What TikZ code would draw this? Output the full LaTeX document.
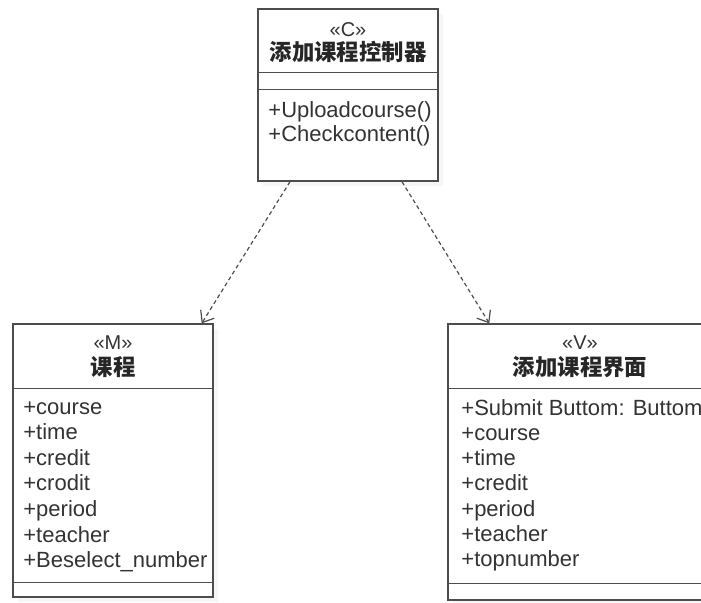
\documentclass[tikz,border=0pt]{standalone}
\usepackage{fontspec}
\setmainfont{Liberation Sans}
\newfontfamily\cjk{Noto Sans CJK SC}
\usetikzlibrary{arrows.meta}
\usetikzlibrary{positioning}
\usetikzlibrary{shadows}
\definecolor{LineGray}{HTML}{4D4D4D}
\definecolor{TextGray}{HTML}{333333}
\definecolor{ShadowGray}{HTML}{EEEEEE}

\begin{document}
\begin{tikzpicture}[x=0.5pt, y=-0.5pt,
  classbox/.style={draw=LineGray, line width=0.7pt, fill=white, rectangle, inner sep=0pt,
    drop shadow={fill=ShadowGray, shadow xshift=2.5pt, shadow yshift=-2.5pt}},
  stereo/.style={text=TextGray, inner sep=0pt, font=\fontsize{10}{12}\selectfont},
  classname/.style={text=black!85, inner sep=0pt, font=\cjk\bfseries\fontsize{11.2}{13}\selectfont},
  member/.style={text=TextGray, anchor=base west, inner sep=0pt, font=\fontsize{11}{13}\selectfont},
  compline/.style={draw=LineGray, line width=0.7pt},
  depend/.style={draw=LineGray, line width=0.6pt, dash pattern=on 2pt off 1.5pt,
    -{Straight Barb[length=5pt,width=8pt]}}]

  \useasboundingbox (0,0) rectangle (701,602);
  \clip (0,0) rectangle (701,602);

  % controller
  \node[classbox, minimum width=90pt, minimum height=86pt] (ctrl) at (348,95) {};
  \draw[compline] ([yshift=-32pt]ctrl.north west) -- ([yshift=-32pt]ctrl.north east);
  \draw[compline] ([yshift=-40.5pt]ctrl.north west) -- ([yshift=-40.5pt]ctrl.north east);
  \node[stereo] (ctrl-st) at (348,30) {«C»};
  \node[classname] (ctrl-name) at (348,52) {添加课程控制器};
  \foreach \m [count=\i] in {Uploadcourse(),Checkcontent()}{%
    \node[member] (ctrl-op\i) at (268,117+24*\i-24) {+\m};
  }

  % model
  \node[classbox, minimum width=100pt, minimum height=136.5pt] (model) at (113,460.5) {};
  \draw[compline] ([yshift=-32.5pt]model.north west) -- ([yshift=-32.5pt]model.north east);
  \draw[compline] ([yshift=7.5pt]model.south west) -- ([yshift=7.5pt]model.south east);
  \node[stereo] (model-st) at (113,343) {«M»};
  \node[classname] (model-name) at (113,367) {课程};
  \foreach \a [count=\i] in {course,time,credit,crodit,period,teacher,Beselect\_number}{%
    \node[member] (model-at\i) at (23,414+25.6*\i-25.6) {+\a};
  }

  % view
  \node[classbox, minimum width=135pt, minimum height=138pt] (view) at (583,462) {};
  \draw[compline] ([yshift=-32.5pt]view.north west) -- ([yshift=-32.5pt]view.north east);
  \draw[compline] ([yshift=8.5pt]view.south west) -- ([yshift=8.5pt]view.south east);
  \node[stereo] (view-st) at (580,343) {«V»};
  \node[classname] (view-name) at (580,367) {添加课程界面};
  \foreach \a [count=\i] in {Submit Buttom: Buttom,course,time,credit,period,teacher,topnumber}{%
    \node[member] (view-at\i) at (461,415+25.3*\i-25.3) {+\a};
  }

  \draw[depend] ([xshift=-29pt]ctrl.south) -- ([xshift=-6pt]model.north east);
  \draw[depend] ([xshift=27pt]ctrl.south) -- ([xshift=21pt]view.north west);
\end{tikzpicture}
\end{document}
